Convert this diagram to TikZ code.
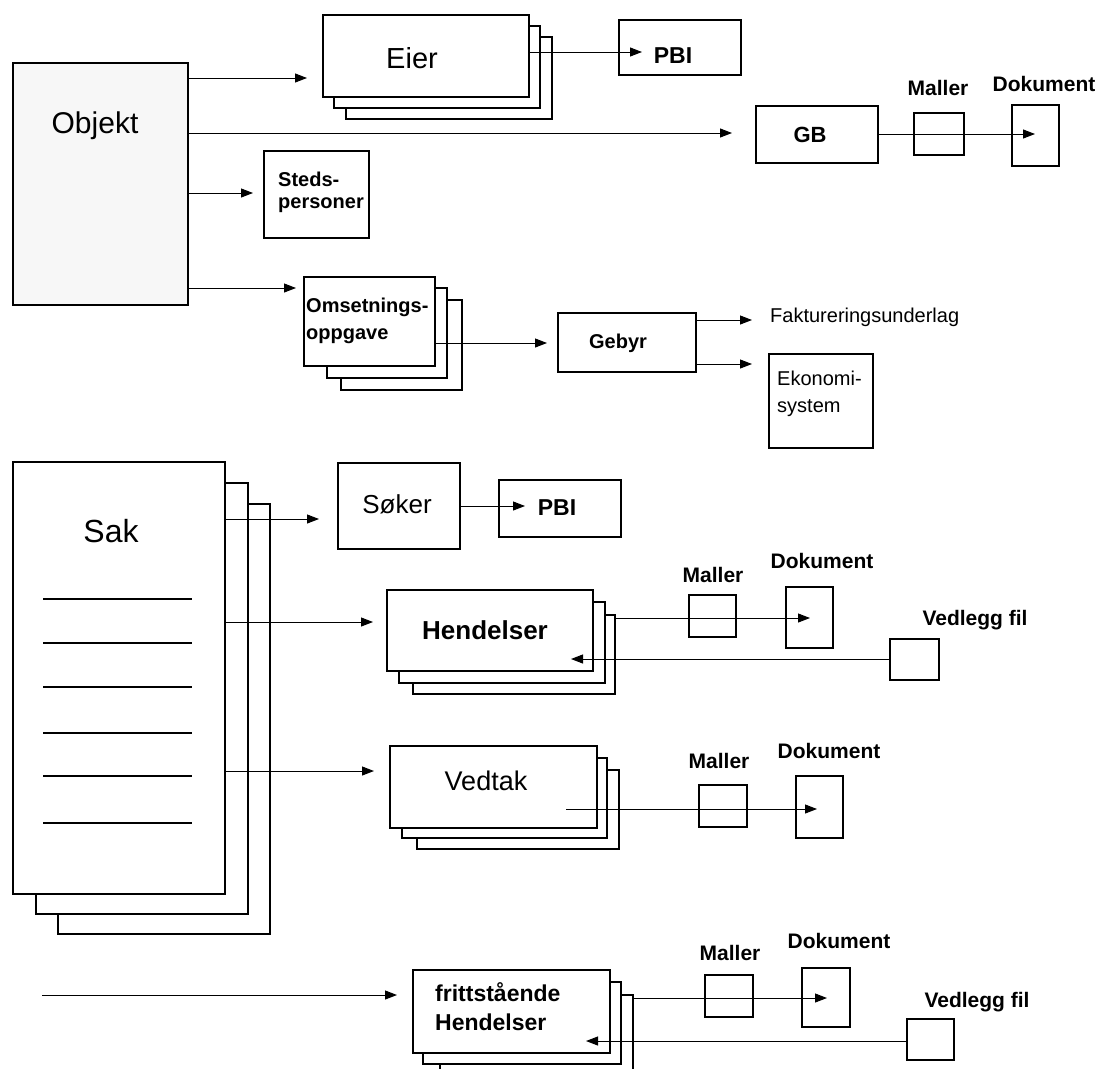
\documentclass[tikz,border=0pt]{standalone}
\usepackage{fontspec}
\setmainfont{Liberation Sans}
\usetikzlibrary{arrows.meta}
\newcommand\rbox[7][]{\node[box,anchor=north west,minimum width={#5-#3},minimum height={#6-#4},#1] (#2) at (#3,#4) {#7};}
\begin{document}
\begin{tikzpicture}[x=1pt,y=-1pt,
  box/.style={draw=black,line width=2pt,fill=white,inner sep=0pt,rectangle},
  arr/.style={line width=1pt,-{Triangle[length=12pt,width=9pt]}},
  txt/.style={inner sep=0pt,anchor=base},
  lbl/.style={txt,font=\fontsize{21}{24}\selectfont\bfseries},
  rule/.style={line width=2pt}]
\useasboundingbox (0,0) rectangle (1099,1068);
% ---------- Objekt group
\rbox[fill=black!3]{objekt}{12}{62}{187}{304}{}
\node[txt,font=\fontsize{30}{34}\selectfont] (objektt) at (95,133) {Objekt};
\rbox{eierc}{345}{36}{551}{118}{}
\rbox{eierb}{333}{25}{539}{107}{}
\rbox{eier}{322}{14}{528}{96}{}
\node[txt,font=\fontsize{29}{33}\selectfont] (eiert) at (412,68) {Eier};
\rbox{pbia}{618}{19}{740}{74}{}
\node[txt,font=\fontsize{23}{26}\selectfont\bfseries] (pbiat) at (673,63) {PBI};
\rbox{gb}{755}{105}{877}{162}{}
\node[txt,font=\fontsize{22}{25}\selectfont\bfseries] (gbt) at (810,142) {GB};
\rbox{mala}{913}{112}{963}{154}{}
\node[lbl] (malat) at (938,95) {Maller};
\rbox{doka}{1011}{104}{1058}{165}{}
\node[lbl] (dokat) at (1044,91) {Dokument};
\rbox{steds}{263}{150}{368}{237}{}
\node[txt,anchor=base west,align=left,font=\fontsize{20}{22}\selectfont\bfseries] (stedst) at (278,208) {Steds-\\personer};
\rbox{omsc}{340}{299}{461}{389}{}
\rbox{omsb}{326}{287}{446}{377}{}
\rbox{oms}{303}{276}{434}{365}{}
\node[txt,anchor=base west,align=left,font=\fontsize{20}{27}\selectfont\bfseries] (omst) at (306,339) {Omsetnings-\\oppgave};
\rbox{gebyr}{557}{312}{695}{371}{}
\node[txt,font=\fontsize{20}{23}\selectfont\bfseries] (gebyrt) at (618,348) {Gebyr};
\node[txt,anchor=base west,font=\fontsize{20}{23}\selectfont] (fakt) at (770,322) {Faktureringsunderlag};
\rbox{oko}{768}{353}{872}{447}{}
\node[txt,anchor=base west,align=left,font=\fontsize{20}{27}\selectfont] (okot) at (777,412) {Ekonomi-\\system};
% ---------- Sak group
\rbox{sakc}{57}{503}{269}{933}{}
\rbox{sakb}{35}{482}{247}{913}{}
\rbox{sak}{12}{461}{224}{893}{}
\node[txt,font=\fontsize{32}{36}\selectfont] (sakt) at (111,542) {Sak};
\foreach \yy in {599,643,687,733,776,823} \draw[rule] (43,\yy) -- (192,\yy);
\rbox{soker}{337}{462}{459}{548}{}
\node[txt,font=\fontsize{26}{30}\selectfont] (sokert) at (397,513) {Søker};
\rbox{pbib}{498}{479}{620}{536}{}
\node[txt,font=\fontsize{23}{26}\selectfont\bfseries] (pbibt) at (557,515) {PBI};
\rbox{hendc}{412}{614}{614}{693}{}
\rbox{hendb}{398}{601}{604}{682}{}
\rbox{hend}{386}{589}{592}{670}{}
\node[txt,font=\fontsize{26}{30}\selectfont\bfseries] (hendt) at (485,639) {Hendelser};
\rbox{malb}{688}{594}{735}{636}{}
\node[lbl] (malbt) at (713,582) {Maller};
\rbox{dokb}{785}{586}{832}{647}{}
\node[lbl] (dokbt) at (822,568) {Dokument};
\rbox{veda}{889}{638}{938}{679}{}
\node[lbl] (vedat) at (975,625) {Vedlegg fil};
\rbox{vedtc}{416}{769}{618}{848}{}
\rbox{vedtb}{401}{757}{606}{837}{}
\rbox{vedt}{389}{745}{596}{827}{}
\node[txt,font=\fontsize{27}{31}\selectfont] (vedtt) at (486,790) {Vedtak};
\rbox{malc}{698}{784}{746}{826}{}
\node[lbl] (malct) at (719,768) {Maller};
\rbox{dokc}{795}{775}{842}{837}{}
\node[lbl] (dokct) at (829,758) {Dokument};
% ---------- frittstaaende
\rbox{fritc}{439}{994}{632}{1090}{}
\rbox{fritb}{422}{981}{620}{1063}{}
\rbox{frit}{412}{969}{609}{1052}{}
\node[txt,anchor=base west,align=left,font=\fontsize{23}{29}\selectfont\bfseries] (fritt) at (435,1030) {frittstående\\Hendelser};
\rbox{mald}{704}{974}{752}{1016}{}
\node[lbl] (maldt) at (730,960) {Maller};
\rbox{dokd}{801}{967}{849}{1026}{}
\node[lbl] (dokdt) at (839,948) {Dokument};
\rbox{vedb}{906}{1018}{953}{1059}{}
\node[lbl] (vedbt) at (977,1007) {Vedlegg fil};
% ---------- row coordinates
\coordinate (r1) at (0,78);
\coordinate (r2) at (0,133);
\coordinate (r3) at (0,193);
\coordinate (r4) at (0,288);
\coordinate (r5) at (0,52);
\coordinate (r6) at (0,134);
\coordinate (r7) at (0,343);
\coordinate (r8) at (0,320);
\coordinate (r9) at (0,364);
\coordinate (s1) at (0,519);
\coordinate (s2) at (0,506);
\coordinate (s3) at (0,622);
\coordinate (s4) at (0,618);
\coordinate (s5) at (0,659);
\coordinate (s6) at (0,771);
\coordinate (s7) at (0,809);
\coordinate (fstart) at (42,995);
\coordinate (f2) at (0,998);
\coordinate (f3) at (0,1041);
% ---------- connectors
\draw[arr,shorten >=15pt] (objekt.east |- r1) -- (eier.west |- r1);
\draw[arr,shorten >=23pt] (objekt.east |- r2) -- (gb.west |- r2);
\draw[arr,shorten >=10pt] (objekt.east |- r3) -- (steds.west |- r3);
\draw[arr,shorten >=7pt] (objekt.east |- r4) -- (oms.west |- r4);
\draw[arr,shorten >=-24pt] (eier.east |- r5) -- (pbia.west |- r5);
\draw[arr,shorten >=-24pt] (gb.east |- r6) -- (doka.west |- r6);
\draw[arr,shorten >=10pt] (oms.east |- r7) -- (gebyr.west |- r7);
\draw[arr,shorten >=18pt] (gebyr.east |- r8) -- (fakt.west |- r8);
\draw[arr,shorten >=16pt] (gebyr.east |- r9) -- (oko.west |- r9);
\draw[arr,shorten >=18pt] (sak.east |- s1) -- (soker.west |- s1);
\draw[arr,shorten >=-27pt] (soker.east |- s2) -- (pbib.west |- s2);
\draw[arr,shorten >=13pt] (sak.east |- s3) -- (hend.west |- s3);
\draw[arr,shorten >=-25pt] (hendc.east |- s4) -- (dokb.west |- s4);
\draw[arr,shorten >=-23pt] (veda.west |- s5) -- (hend.east |- s5);
\draw[arr,shorten >=15pt] (sak.east |- s6) -- (vedt.west |- s6);
\draw[arr,shorten <=-32pt,shorten >=-22pt] (vedt.east |- s7) -- (dokc.west |- s7);
\draw[arr,shorten >=15pt] (fstart) -- (frit.west |- fstart);
\draw[arr,shorten >=-26pt] (fritc.east |- f2) -- (dokd.west |- f2);
\draw[arr,shorten >=-25pt] (vedb.west |- f3) -- (frit.east |- f3);
\end{tikzpicture}
\end{document}
